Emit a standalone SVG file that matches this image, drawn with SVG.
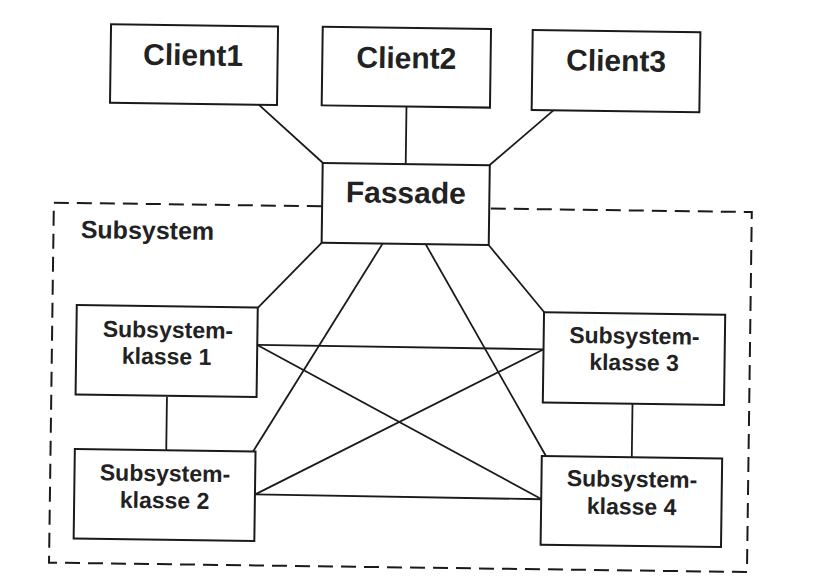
<svg xmlns="http://www.w3.org/2000/svg" width="824" height="582" viewBox="0 0 824 582">
<style>
.box{fill:#fff;stroke:#1a1a1a;stroke-width:2}
.ln{stroke:#1a1a1a;stroke-width:1.8;fill:none}
.frame{fill:none;stroke:#1a1a1a;stroke-width:2;stroke-dasharray:15 8}
.t{font-family:"Liberation Sans",Arial,sans-serif;font-weight:bold;fill:#222;text-anchor:middle}
.big{font-size:30px}
.sk{font-size:23px}
</style>
<rect width="824" height="582" fill="#fff"/>
<g transform="rotate(0.77 412 291)">
<g id="subsystem">
<rect class="frame" x="52.7" y="207.5" width="698" height="360"/>
<text class="t" x="80" y="242.5" style="font-size:25px;text-anchor:start">Subsystem</text>
</g>
<g id="connectors">
<line class="ln" x1="256.5" y1="107" x2="321" y2="164"/>
<line class="ln" x1="404" y1="107" x2="404" y2="164"/>
<line class="ln" x1="551" y1="108.5" x2="488" y2="164"/>
<line class="ln" x1="321" y1="244" x2="258" y2="310"/>
<line class="ln" x1="382" y1="244" x2="255" y2="454"/>
<line class="ln" x1="425" y1="244" x2="548" y2="454"/>
<line class="ln" x1="488" y1="244" x2="544.5" y2="310.5"/>
<line class="ln" x1="258" y1="347" x2="544.5" y2="347.5"/>
<line class="ln" x1="258" y1="347" x2="544.5" y2="497.5"/>
<line class="ln" x1="258" y1="496.5" x2="544.5" y2="347.5"/>
<line class="ln" x1="258" y1="496.5" x2="544.5" y2="497.5"/>
<line class="ln" x1="168.4" y1="400" x2="168.4" y2="454"/>
<line class="ln" x1="634" y1="401" x2="634" y2="454"/>
</g>
<g id="client1">
<rect class="box" x="107.5" y="28.3" width="167" height="78.5"/>
<text class="t big" x="190" y="68.3">Client1</text>
</g>
<g id="client2">
<rect class="box" x="319.2" y="28" width="168.3" height="78.6"/>
<text class="t big" x="403.3" y="68.4">Client2</text>
</g>
<g id="client3">
<rect class="box" x="529.2" y="28.4" width="167.7" height="80"/>
<text class="t big" x="613" y="68.3">Client3</text>
</g>
<g id="fassade">
<rect class="box" x="321" y="164.2" width="167.1" height="79.8"/>
<text class="t big" x="404.5" y="203.1">Fassade</text>
</g>
<g id="sk1">
<rect class="box" x="77" y="309.5" width="181" height="89.5"/>
<text class="t sk" x="168.5" y="341">Subsystem-</text>
<text class="t sk" x="167.5" y="367.6">klasse 1</text>
</g>
<g id="sk2">
<rect class="box" x="77" y="453.5" width="180.7" height="89.6"/>
<text class="t sk" x="167.5" y="484.5">Subsystem-</text>
<text class="t sk" x="167.5" y="511.6">klasse 2</text>
</g>
<g id="sk3">
<rect class="box" x="544.3" y="310.5" width="181.2" height="90.3"/>
<text class="t sk" x="635" y="340.8">Subsystem-</text>
<text class="t sk" x="635" y="367.4">klasse 3</text>
</g>
<g id="sk4">
<rect class="box" x="544" y="454.3" width="180.4" height="88.6"/>
<text class="t sk" x="634.5" y="484">Subsystem-</text>
<text class="t sk" x="634.5" y="511.5">klasse 4</text>
</g>
</g>
</svg>
